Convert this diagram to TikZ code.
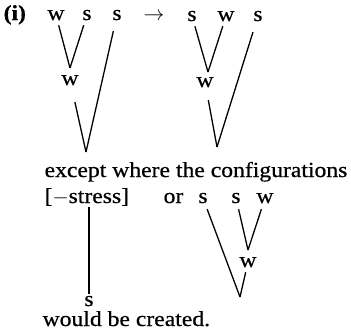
\documentclass[tikz,border=0pt]{standalone}
\usepackage{fontspec}
\setmainfont{Liberation Serif}[FakeStretch=1.1, FakeBold=0.6]
\begin{document}
\begin{tikzpicture}[x=1pt, y=-1pt, line width=1.3pt,
  font=\fontsize{21.5}{26}\selectfont]
\tikzset{
  lab/.style={inner sep=1.5pt, anchor=base},
  txt/.style={inner sep=0pt, anchor=base west}
}
\useasboundingbox (0,0) rectangle (351,335);
% Kopfzeile
\node[txt, font=\fontsize{21.5}{26}\selectfont\bfseries] (num) at (3,20) {(i)};
% Baum links: w s s
\node[lab] (w1) at (56,20)  {w};
\node[lab] (s1) at (87,20)  {s};
\node[lab] (s2) at (117,20) {s};
\coordinate (v1) at (70,68);
\node[lab] (wm1) at (70,85) {w};
\coordinate (v2) at (86,152);
\draw[shorten <=3pt] (w1) -- (v1);
\draw[shorten >=3pt] (v1) -- (s1);
\draw[shorten <=15pt] (wm1) -- (v2);
\draw[shorten <=9pt] (s2) -- (v2);
% Pfeil
\node[lab] (arr) at (154,20) {$\rightarrow$};
% Baum rechts: s w s
\node[lab] (s3) at (192,21) {s};
\node[lab] (w3) at (226,21) {w};
\node[lab] (s4) at (258,21) {s};
\coordinate (v3) at (208,72);
\node[lab] (wm2) at (205,87) {w};
\coordinate (v4) at (217,147);
\draw[shorten <=3pt] (s3) -- (v3);
\draw[shorten >=3pt] (v3) -- (w3);
\draw[shorten <=11pt] (wm2) -- (v4);
\draw[shorten <=9pt] (s4) -- (v4);
% Text
\node[txt] (exc) at (44,177) {except where the configurations};
\node[txt] (stress) at (44,203) {[$-$stress]};
\node[txt] (or) at (163,203) {or};
\node[lab] (sbot) at (89,306) {s};
\draw (sbot) -- (sbot |- stress.south);
% Baum unten: s s w
\node[lab] (s5) at (203,203) {s};
\node[lab] (s6) at (236,203) {s};
\node[lab] (w5) at (265,203) {w};
\coordinate (v5) at (248,250);
\node[lab] (wm3) at (248,267) {w};
\coordinate (v6) at (240,297);
\draw[shorten <=4pt] (s6) -- (v5);
\draw[shorten >=4pt] (v5) -- (w5);
\draw[shorten <=3pt] (wm3) -- (v6);
\draw[shorten <=4pt] (s5) -- (v6);
\node[txt] (would) at (42,326) {would be created.};
\end{tikzpicture}
\end{document}
